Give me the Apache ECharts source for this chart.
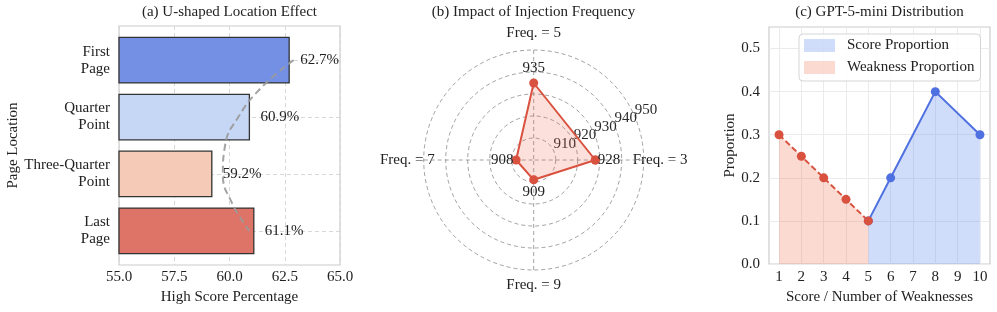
<!DOCTYPE html>
<html>
<head>
<meta charset="utf-8">
<script src="https://cdn.jsdelivr.net/npm/echarts@6/dist/echarts.min.js"></script>
<style>
html,body{margin:0;padding:0;background:#fff;}
#c{width:997px;height:312px;}
</style>
</head>
<body>
<div id="c"></div>
<script>
// ---------- Panel (a) data ----------
const barCategories = ['First\nPage', 'Quarter\nPoint', 'Three-Quarter\nPoint', 'Last\nPage'];
const barValues = [62.7, 60.9, 59.2, 61.1];
const xTicksA = [55, 57.5, 60, 62.5, 65];
// dashed U-shaped trend curve (category position, value)
const trendPos = [0, 0.5, 1, 1.5, 2, 2.5, 3];
const trendValues = [62.9, 61.4, 60.4, 59.8, 59.7, 60.1, 60.9];

// ---------- Panel (b) data ----------
const freqLabels = ['Freq. = 3', 'Freq. = 5', 'Freq. = 7', 'Freq. = 9'];
const freqAngles = [0, 90, 180, 270];
const freqValues = [928, 935, 908, 909];
const radialTicks = [910, 920, 930, 940, 950];

// ---------- Panel (c) data ----------
const scoreX = [5, 6, 8, 10];
const scoreY = [0.1, 0.2, 0.4, 0.3];
const weakX = [1, 2, 3, 4, 5];
const weakY = [0.3, 0.25, 0.2, 0.15, 0.1];
const xTicksC = [1, 2, 3, 4, 5, 6, 7, 8, 9, 10];
const yTicksC = [0, 0.1, 0.2, 0.3, 0.4, 0.5];

// ---------- styles ----------
const FONT = '"Liberation Serif", "Times New Roman", serif';
const TXT = '#222';
const barColors = ['#7390e4', '#c6d7f6', '#f5cab6', '#de7367'];
const RED = '#d9513f';
const BLUE = '#4f70e0';
const BLUE_FILL = 'rgba(110,150,240,0.32)';
const RED_FILL = 'rgba(235,120,85,0.27)';
const posByAngle = {0: ['right', -2], 90: ['top', 3], 180: ['left', -2], 270: ['bottom', 0]};

const chart = echarts.init(document.getElementById('c'), null, {renderer: 'canvas'});

const txt = (extra) => Object.assign({fontFamily: FONT, fontSize: 15, color: TXT}, extra || {});

const radarPts = freqValues.map((v, i) => ({
  value: [v, freqAngles[i]],
  label: {position: posByAngle[freqAngles[i]][0], distance: posByAngle[freqAngles[i]][1]}
}));
radarPts.push({value: [freqValues[0], 360], label: {show: false}});

const option = {
  animation: false,
  backgroundColor: '#fff',
  title: [
    {text: '(a) U-shaped Location Effect', left: 229.5, top: 5, textAlign: 'center', padding: 0,
     textStyle: txt({fontWeight: 'normal'})},
    {text: '(b) Impact of Injection Frequency', left: 533.5, top: 5, textAlign: 'center', padding: 0,
     textStyle: txt({fontWeight: 'normal'})},
    {text: '(c) GPT-5-mini Distribution', left: 879.5, top: 5, textAlign: 'center', padding: 0,
     textStyle: txt({fontWeight: 'normal'})}
  ],
  legend: {
    left: 799, top: 34, orient: 'vertical',
    padding: [3, 6, 5, 5], itemGap: 5,
    itemWidth: 31, itemHeight: 13,
    borderColor: '#d5d5d5', borderWidth: 1, borderRadius: 4,
    backgroundColor: 'rgba(255,255,255,0.85)',
    textStyle: txt({padding: [0, 0, 0, 7], lineHeight: 17}),
    data: [
      {name: 'Score Proportion', icon: 'rect', itemStyle: {color: BLUE_FILL, borderWidth: 0}},
      {name: 'Weakness Proportion', icon: 'rect', itemStyle: {color: RED_FILL, borderWidth: 0}}
    ]
  },
  grid: [
    {left: 119, top: 26, width: 221, height: 239, show: true, borderColor: '#cccccc', borderWidth: 1.2, backgroundColor: 'transparent'},
    {left: 769, top: 27, width: 221, height: 237, show: true, borderColor: '#cccccc', borderWidth: 1.2, backgroundColor: 'transparent'}
  ],
  xAxis: [
    {
      type: 'value', gridIndex: 0, min: 55, max: 65, interval: 2.5,
      name: 'High Score Percentage', nameLocation: 'middle', nameGap: 24, nameTextStyle: txt(),
      axisLine: {show: false}, axisTick: {show: false},
      axisLabel: txt({margin: 5, formatter: v => v.toFixed(1)}),
      splitLine: {show: true, lineStyle: {color: '#d8d8d8', type: [4, 3], width: 1}}
    },
    {
      type: 'value', gridIndex: 1, min: 0.55, max: 10.45,
      name: 'Score / Number of Weaknesses', nameLocation: 'middle', nameGap: 25, nameTextStyle: txt(),
      axisLine: {show: false},
      axisTick: {show: false, customValues: xTicksC},
      axisLabel: txt({margin: 6, customValues: xTicksC, formatter: v => String(v)}),
      splitLine: {show: true, lineStyle: {color: '#ebebeb', width: 1}}
    }
  ],
  yAxis: [
    {
      type: 'value', gridIndex: 0, min: -0.6, max: 3.6, inverse: true,
      name: 'Page Location', nameLocation: 'middle', nameGap: 98, nameTextStyle: txt(),
      axisLine: {show: false},
      axisTick: {show: false, customValues: [0, 1, 2, 3]},
      axisLabel: txt({margin: 9, lineHeight: 17, customValues: [0, 1, 2, 3], formatter: v => barCategories[Math.round(v)]}),
      splitLine: {show: true, lineStyle: {color: '#d8d8d8', type: [4, 3], width: 1}}
    },
    {
      type: 'value', gridIndex: 1, min: 0, max: 0.55,
      name: 'Proportion', nameLocation: 'middle', nameGap: 31, nameTextStyle: txt(),
      axisLine: {show: false},
      axisTick: {show: false, customValues: yTicksC},
      axisLabel: txt({margin: 9, customValues: yTicksC, formatter: v => v.toFixed(1)}),
      splitLine: {show: true, lineStyle: {color: '#ebebeb', width: 1}}
    }
  ],
  polar: {center: [533.7, 160], radius: 110},
  angleAxis: {
    type: 'value', min: 0, max: 360, interval: 90, startAngle: 0, clockwise: false,
    axisLine: {show: false}, axisTick: {show: false},
    axisLabel: txt({
      margin: -11,
      formatter: v => {
        const i = freqAngles.indexOf(v);
        if (i < 0) return '';
        if (v === 90) return '{t|' + freqLabels[i] + '}';
        if (v === 270) return '{b|' + freqLabels[i] + '}';
        return freqLabels[i];
      },
      rich: {
        t: {fontFamily: FONT, fontSize: 15, color: TXT, lineHeight: 55},
        b: {fontFamily: FONT, fontSize: 15, color: TXT, lineHeight: 52}
      }
    }),
    splitLine: {show: true, lineStyle: {color: '#8a8a8a', width: 0.8, type: [4, 3]}}
  },
  radiusAxis: {
    type: 'value', min: 900, max: 950, interval: 10,
    axisLine: {show: false}, axisTick: {show: false}, axisLabel: {show: false},
    splitLine: {show: true, lineStyle: {color: '#8a8a8a', width: 0.8, type: [4, 3]}}
  },
  series: [
    // (a) bars
    {
      type: 'custom', xAxisIndex: 0, yAxisIndex: 0,
      data: barValues.map((v, i) => [v, i]),
      encode: {x: 0, y: 1},
      z: 3,
      renderItem: function (params, api) {
        const i = api.value(1), v = api.value(0);
        const base = api.coord([xTicksA[0], i]);
        const end = api.coord([v, i]);
        const h = api.size([0, 0.8])[1];
        const lab = api.coord([v + 0.5, i]);
        return {
          type: 'group',
          children: [
            {type: 'rect', shape: {x: base[0], y: end[1] - h / 2, width: end[0] - base[0], height: h},
             style: {fill: barColors[i], stroke: '#333', lineWidth: 1.3}},
            {type: 'text', style: {x: lab[0], y: lab[1], text: v.toFixed(1) + '%', align: 'left', verticalAlign: 'middle',
             fontFamily: FONT, fontSize: 15, fill: TXT}}
          ]
        };
      }
    },
    // (a) trend curve
    {
      type: 'line', xAxisIndex: 0, yAxisIndex: 0, z: 4,
      data: trendValues.map((v, i) => [v, trendPos[i]]),
      smooth: true, symbol: 'none', silent: true,
      lineStyle: {color: '#9a9a9a', width: 2, type: [7, 4], opacity: 0.9}
    },
    // (b) radial tick labels
    {
      type: 'scatter', coordinateSystem: 'polar', silent: true,
      data: radialTicks.map(v => [v, 22.5]),
      symbolSize: 1, itemStyle: {color: 'rgba(0,0,0,0)', opacity: 1},
      label: {show: true, position: [0, 0], align: 'left', verticalAlign: 'bottom', opacity: 1,
              formatter: p => String(p.value[0]), fontFamily: FONT, fontSize: 15, color: '#2a2a2a'}
    },
    // (b) polygon
    {
      type: 'line', coordinateSystem: 'polar',
      data: radarPts,
      symbol: 'circle', symbolSize: 9,
      lineStyle: {color: RED, width: 2},
      itemStyle: {color: RED},
      areaStyle: {color: 'rgba(235,100,75,0.2)', opacity: 1},
      label: {show: true, fontFamily: FONT, fontSize: 15, color: TXT, formatter: p => String(p.value[0])}
    },
    // (c) score proportion
    {
      name: 'Score Proportion', type: 'line', xAxisIndex: 1, yAxisIndex: 1,
      data: scoreX.map((x, i) => [x, scoreY[i]]),
      symbol: 'circle', symbolSize: 9,
      lineStyle: {color: BLUE, width: 2},
      itemStyle: {color: BLUE},
      areaStyle: {color: BLUE_FILL, origin: 'start', opacity: 1}
    },
    // (c) weakness proportion
    {
      name: 'Weakness Proportion', type: 'line', xAxisIndex: 1, yAxisIndex: 1,
      data: weakX.map((x, i) => [x, weakY[i]]),
      symbol: 'circle', symbolSize: 9,
      lineStyle: {color: RED, width: 2, type: [6, 3]},
      itemStyle: {color: RED},
      areaStyle: {color: RED_FILL, origin: 'start', opacity: 1}
    }
  ]
};
chart.setOption(option);
</script>
</body>
</html>
